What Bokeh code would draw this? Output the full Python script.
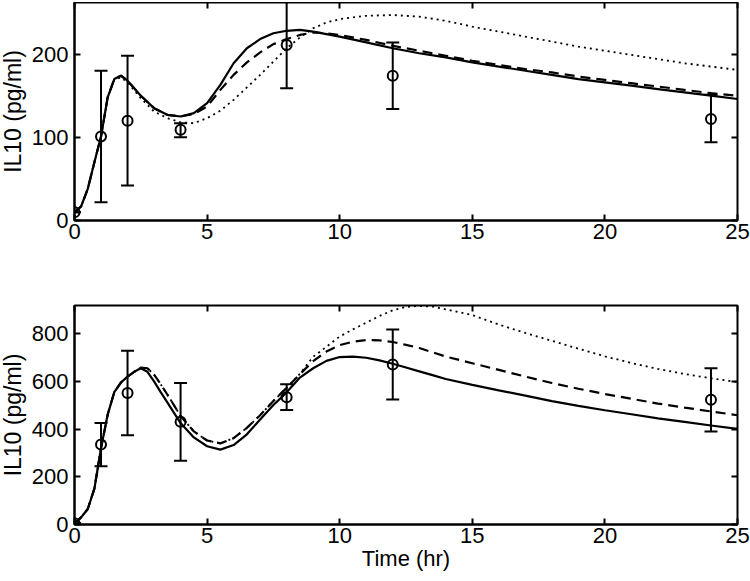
from bokeh.plotting import figure
from bokeh.models import Range1d, LinearAxis, FixedTicker
from bokeh.layouts import column
from bokeh.embed import file_html
from bokeh.resources import INLINE

FONT = "Liberation Sans"

# ---------------- data ----------------
x_ticks = [0, 5, 10, 15, 20, 25]
top_y_ticks = [0, 100, 200]
bot_y_ticks = [0, 200, 400, 600, 800]

# measured data (time in hr)
t_data = [0, 1, 2, 4, 8, 12, 24]
top_mean = [10, 101, 120, 109, 211, 174, 122]
top_lo = [10, 22, 42, 100, 159, 134, 94]
top_hi = [10, 180, 198, 117, 270, 214, 151]

bot_mean = [5, 335, 551, 431, 533, 671, 523]
bot_lo = [5, 244, 374, 267, 480, 524, 390]
bot_hi = [5, 425, 728, 593, 588, 817, 655]

# model curves, upper panel
t_top = [0, 0.25, 0.5, 0.75, 1, 1.25, 1.5, 1.75, 2, 2.5, 3, 3.5, 4, 4.5, 5, 5.5,
         6, 6.5, 7, 7.5, 8, 8.5, 9, 9.5, 10, 11, 12, 13, 14, 15, 16, 17, 18, 19,
         20, 21, 22, 23, 24, 25]
top_solid = [10, 17, 38, 70, 101, 148, 170, 174, 168, 150, 135, 127, 125, 129, 141, 163,
             189, 207, 218, 225, 228, 229, 227, 224, 221, 214, 207, 201, 196, 190, 185, 180,
             175, 170, 166, 162, 158, 154, 150, 146]
top_dashed = [10, 17, 38, 70, 101, 148, 170, 174, 168, 150, 135, 127, 125, 128, 137, 157,
              175, 190, 202, 212, 218, 223, 226, 225, 223, 217, 210, 204, 198, 192, 187, 182,
              178, 173, 169, 165, 161, 157, 153, 150]
top_dotted = [10, 17, 38, 70, 101, 147, 169, 172, 166, 147, 131, 123, 118, 117, 123, 132,
              145, 160, 175, 191, 207, 220, 231, 238, 242, 246, 247, 245, 240, 233, 227, 221,
              215, 209, 204, 199, 194, 189, 185, 181]

# model curves, lower panel
t_bot = [0, 0.25, 0.5, 0.75, 1, 1.25, 1.5, 1.75, 2, 2.25, 2.5, 2.75, 3, 3.25, 3.5,
         4, 4.5, 5, 5.5, 6, 6.5, 7, 7.5, 8, 8.5, 9, 9.5, 10, 10.5, 11, 11.5, 12, 12.5,
         13, 13.5, 14, 15, 16, 17, 18, 19, 20, 21, 22, 23, 24, 25]
bot_solid = [5, 30, 65, 150, 320, 460, 555, 595, 620, 640, 655, 640, 600, 555, 512,
             425, 365, 328, 314, 333, 378, 440, 501, 554, 616, 655, 686, 702, 704, 699, 688,
             674, 658, 642, 626, 610, 585, 562, 540, 517, 497, 479, 462, 445, 430, 415, 401]
bot_dashed = [5, 30, 65, 150, 320, 460, 555, 595, 620, 640, 658, 655, 628, 588, 545,
              455, 390, 352, 340, 362, 405, 458, 518, 573, 630, 685, 725, 752, 766, 773, 772,
              765, 753, 740, 722, 704, 676, 648, 620, 593, 569, 547, 527, 507, 490, 474, 458]
bot_dotted = [5, 30, 65, 150, 320, 460, 555, 595, 620, 640, 658, 655, 628, 588, 545,
              455, 390, 352, 340, 362, 405, 458, 518, 573, 632, 703, 745, 788, 818, 846, 874,
              898, 912, 916, 913, 902, 878, 838, 803, 770, 737, 705, 677, 652, 631, 613, 597]


def style_axis(ax, size="22px", label_size="23px"):
    ax.axis_line_color = "black"
    ax.axis_line_width = 2
    ax.major_tick_in = 6
    ax.major_tick_out = 0
    ax.major_tick_line_width = 2
    ax.major_tick_line_color = "black"
    ax.minor_tick_line_color = None
    ax.major_label_text_font = FONT
    ax.major_label_text_font_size = size
    ax.major_label_text_color = "black"
    ax.axis_label_text_font = FONT
    ax.axis_label_text_font_size = label_size
    ax.axis_label_text_font_style = "normal"
    ax.axis_label_text_color = "black"


def make_panel(height, btop, bbot, ymax, yticks, t, solid, dashed, dotted,
               mean, lo, hi, xlabel=None):
    p = figure(width=755, height=height, x_range=Range1d(0, 25), y_range=Range1d(0, ymax),
               output_backend="svg", toolbar_location=None,
               min_border_left=79, min_border_right=13,
               min_border_top=btop, min_border_bottom=bbot)
    p.grid.visible = False
    p.outline_line_color = "black"
    p.outline_line_width = 2
    p.outline_line_alpha = 1
    p.background_fill_color = "white"
    p.border_fill_color = "white"

    p.xaxis.ticker = FixedTicker(ticks=x_ticks)
    p.yaxis.ticker = FixedTicker(ticks=yticks)
    for ax in p.xaxis:
        style_axis(ax, label_size="22px")
        ax.major_label_standoff = 3
        ax.axis_label_standoff = 0
    for ax in p.yaxis:
        style_axis(ax)
        ax.major_label_standoff = 6
        ax.axis_label_standoff = 3
    p.yaxis.axis_label = "IL10 (pg/ml)"
    if xlabel:
        p.xaxis.axis_label = xlabel

    # inward ticks on the right and top edges (box)
    ra = LinearAxis(ticker=FixedTicker(ticks=yticks),
                    major_label_overrides={v: "" for v in yticks})
    ta = LinearAxis(ticker=FixedTicker(ticks=x_ticks),
                    major_label_overrides={v: "" for v in x_ticks})
    for ax in (ra, ta):
        style_axis(ax, size="1px")
        ax.axis_line_color = None
        ax.major_label_standoff = 0
        ax.major_label_text_alpha = 0
    p.add_layout(ra, "right")
    p.add_layout(ta, "above")

    p.line(t, dotted, line_color="black", line_width=1.8, line_dash="2 4")
    p.line(t, dashed, line_color="black", line_width=2.2, line_dash="10 6")
    p.line(t, solid, line_color="black", line_width=2.2)

    p.segment(x0=t_data, y0=lo, x1=t_data, y1=hi, line_color="black", line_width=2)
    p.scatter(t_data, lo, marker="dash", size=13, line_color="black", line_width=2)
    p.scatter(t_data, hi, marker="dash", size=13, line_color="black", line_width=2)
    p.scatter(t_data, mean, marker="circle", size=10, fill_color=None,
              line_color="black", line_width=2)
    return p


p1 = make_panel(261, 0, 43, 262, top_y_ticks, t_top, top_solid, top_dashed, top_dotted,
                top_mean, top_lo, top_hi)
p2 = make_panel(318, 42, 57, 918, bot_y_ticks, t_bot, bot_solid, bot_dashed, bot_dotted,
                bot_mean, bot_lo, bot_hi, xlabel="Time (hr)")

layout = column(p1, p2, margin=(2, 0, 0, -5))

with open("out.html", "w") as f:
    f.write(file_html(layout, INLINE))
